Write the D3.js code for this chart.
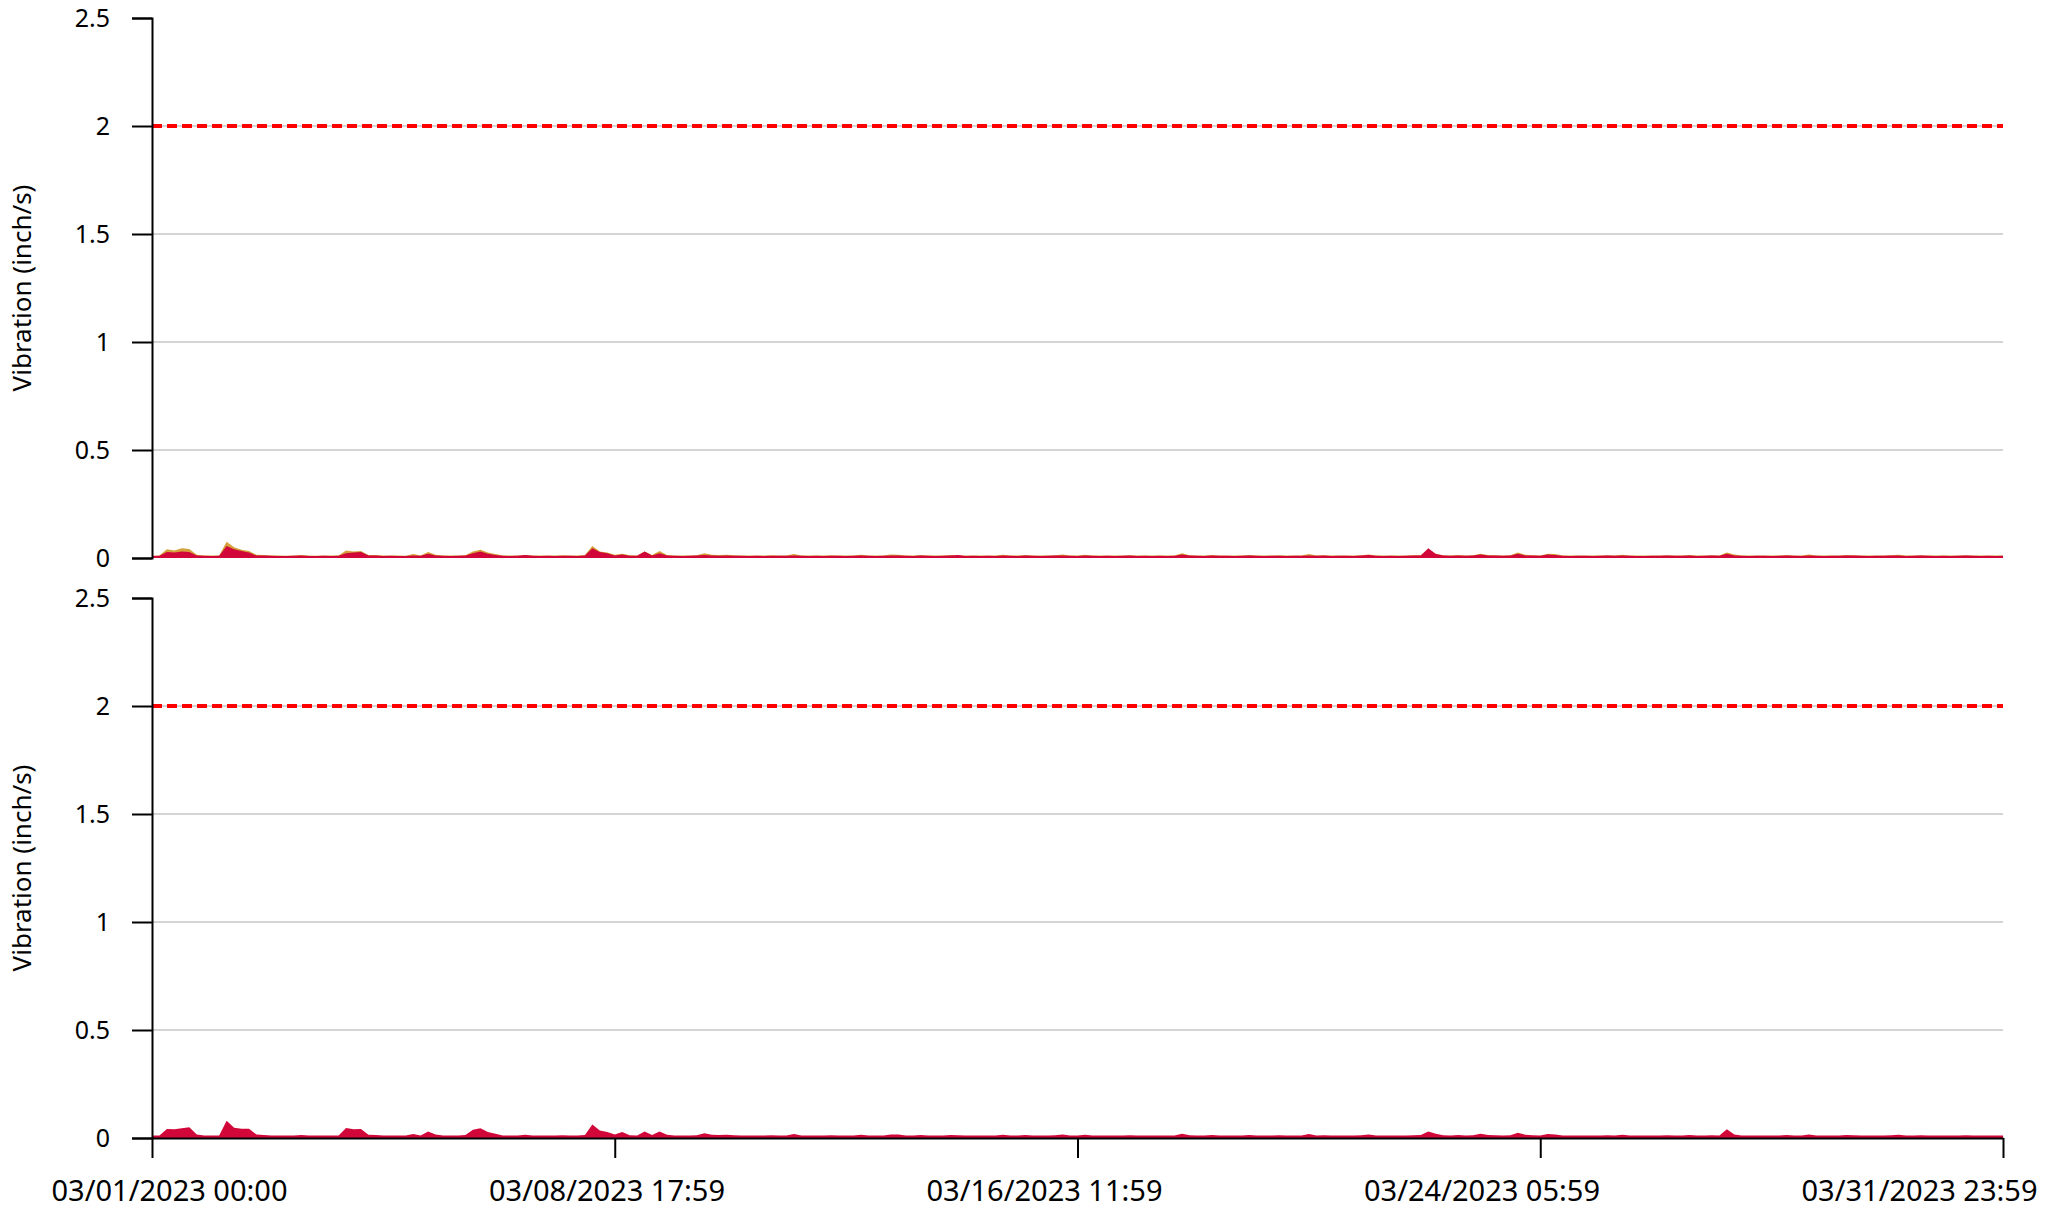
<!DOCTYPE html>
<html>
<head>
<meta charset="utf-8">
<script src="https://cdn.jsdelivr.net/npm/d3@7"></script>
<style>
    body { margin: 0; background: #fff; }
    svg text { font-family: "Noto Sans", sans-serif; fill: #000; }
</style>
</head>
<body>
<div id="chart"></div>
<script>
// time range of the month and sampling step
const startTime = new Date(Date.UTC(2023, 2, 1, 0, 0));
const endTime = new Date(Date.UTC(2023, 2, 31, 23, 59));
const sampleHours = 3;

const yTicks = [0, 0.5, 1, 1.5, 2, 2.5];
const xTickLabels = ["03/01/2023 00:00", "03/08/2023 17:59", "03/16/2023 11:59", "03/24/2023 05:59", "03/31/2023 23:59"];
const thresholdValue = 2;
const yLabel = "Vibration (inch/s)";

// readings in thousandths of inch/s, one row per day (3-hour samples)
const topGold = [
    10, 12, 40, 35, 45, 42, 15, 12,
    11, 12, 75, 50, 38, 32, 15, 14,
    12, 11, 10, 11, 14, 11, 10, 12,
    11, 12, 35, 30, 32, 14, 14, 11,
    12, 11, 10, 18, 12, 28, 15, 12,
    11, 12, 13, 30, 38, 25, 18, 12,
    11, 12, 14, 12, 11, 12, 11, 13,
    12, 11, 14, 55, 30, 25, 15, 20,
    13, 12, 30, 14, 32, 14, 12, 11,
    12, 13, 22, 15, 14, 15, 13, 12,
    11, 12, 11, 13, 12, 12, 18, 12,
    11, 12, 11, 13, 12, 11, 12, 15,
    12, 11, 12, 16, 15, 12, 11, 14,
    12, 11, 12, 14, 12, 11, 12, 11,
    12, 11, 15, 12, 11, 14, 12, 11,
    12, 13, 16, 12, 11, 15, 12, 11,
    12, 11, 12, 13, 11, 12, 11, 12,
    11, 12, 22, 13, 12, 11, 14, 12,
    12, 11, 12, 14, 12, 11, 12, 13,
    11, 12, 12, 18, 12, 13, 11, 12,
    12, 11, 13, 16, 12, 11, 12, 11,
    12, 13, 14, 40, 20, 13, 12, 14,
    12, 13, 20, 14, 13, 12, 13, 25,
    15, 13, 12, 20, 18, 12, 11, 12,
    12, 11, 12, 13, 12, 15, 12, 11,
    11, 12, 12, 13, 12, 12, 14, 11,
    12, 13, 12, 25, 16, 12, 11, 12,
    12, 11, 12, 14, 12, 11, 16, 12,
    11, 12, 12, 14, 13, 12, 11, 12,
    12, 13, 15, 11, 12, 13, 12, 11,
    12, 11, 12, 13, 12, 11, 12, 11, 12
];

const topRed = [
    9, 10, 28, 25, 30, 28, 11, 10,
    9, 10, 55, 40, 32, 26, 11, 11,
    10, 9, 9, 10, 11, 9, 9, 10,
    9, 10, 22, 25, 28, 11, 11, 9,
    10, 9, 9, 12, 10, 20, 11, 10,
    9, 10, 11, 22, 30, 20, 14, 10,
    9, 10, 14, 10, 9, 10, 9, 10,
    10, 9, 11, 45, 28, 22, 11, 16,
    10, 10, 30, 11, 22, 11, 10, 9,
    10, 11, 14, 11, 10, 11, 10, 10,
    9, 10, 9, 10, 10, 10, 12, 10,
    9, 10, 9, 10, 10, 9, 10, 11,
    10, 9, 10, 11, 11, 10, 9, 11,
    10, 9, 10, 11, 14, 9, 10, 9,
    10, 9, 11, 10, 9, 11, 10, 9,
    10, 11, 11, 10, 9, 11, 10, 9,
    10, 9, 10, 11, 9, 10, 9, 10,
    9, 10, 16, 11, 10, 9, 11, 10,
    10, 9, 10, 11, 10, 9, 10, 10,
    9, 10, 10, 12, 10, 11, 9, 10,
    10, 9, 11, 14, 10, 9, 10, 9,
    10, 11, 11, 45, 18, 11, 10, 11,
    10, 11, 16, 11, 11, 10, 11, 20,
    12, 11, 10, 16, 14, 10, 9, 10,
    10, 9, 10, 11, 10, 11, 10, 9,
    9, 10, 10, 11, 10, 10, 11, 9,
    10, 11, 10, 20, 12, 10, 9, 10,
    10, 9, 10, 11, 10, 9, 12, 10,
    9, 10, 10, 11, 11, 10, 9, 10,
    10, 11, 11, 9, 10, 11, 10, 9,
    10, 9, 10, 11, 10, 9, 10, 9, 10
];

const bottomRed = [
    11, 12, 42, 40, 45, 50, 16, 12,
    12, 12, 80, 48, 43, 43, 16, 14,
    12, 11, 11, 12, 14, 11, 11, 12,
    11, 12, 46, 40, 42, 15, 14, 12,
    12, 11, 11, 18, 12, 30, 16, 12,
    11, 12, 14, 38, 45, 28, 20, 12,
    12, 12, 15, 12, 11, 12, 11, 13,
    12, 11, 14, 62, 35, 28, 16, 28,
    13, 12, 30, 14, 30, 15, 12, 11,
    12, 13, 22, 15, 14, 15, 13, 12,
    11, 12, 11, 13, 12, 12, 18, 12,
    11, 12, 11, 13, 12, 12, 12, 15,
    12, 11, 12, 16, 16, 12, 11, 14,
    12, 11, 12, 14, 13, 11, 12, 11,
    12, 11, 15, 12, 11, 14, 12, 11,
    12, 13, 16, 12, 11, 15, 12, 11,
    12, 11, 12, 13, 11, 12, 11, 12,
    11, 12, 20, 13, 12, 11, 14, 12,
    12, 11, 12, 14, 12, 11, 12, 13,
    11, 12, 12, 18, 12, 13, 11, 12,
    12, 11, 13, 16, 12, 11, 12, 11,
    12, 13, 14, 30, 20, 13, 12, 14,
    12, 13, 20, 14, 13, 12, 13, 24,
    15, 13, 12, 18, 16, 12, 11, 12,
    12, 11, 12, 13, 12, 15, 12, 11,
    11, 12, 12, 13, 12, 12, 14, 11,
    12, 13, 12, 40, 16, 12, 11, 12,
    12, 11, 12, 14, 12, 11, 16, 12,
    11, 12, 12, 14, 13, 12, 11, 12,
    12, 13, 15, 11, 12, 13, 12, 11,
    12, 11, 12, 13, 12, 11, 12, 11, 12
];

const colors = { gold: "#d4a13a", red: "#d1073a", threshold: "#ff0000", grid: "#d4d4d4" };

const width = 2065, height = 1211;
const plotLeft = 152, plotRight = 2003;
const panels = [
    { top: 18, bottom: 558, series: [{ values: topGold, color: colors.gold }, { values: topRed, color: colors.red }], xAxis: false },
    { top: 598, bottom: 1138, series: [{ values: bottomRed, color: colors.red }], xAxis: true }
];

const toPoints = values => values.map((v, i) => ({
    time: d3.utcHour.offset(startTime, i * sampleHours),
    value: v / 1000
}));

const svg = d3.select("#chart")
    .append("svg")
    .attr("width", width)
    .attr("height", height);

const x = d3.scaleUtc()
    .domain([startTime, endTime])
    .range([plotLeft, plotRight]);

// tick marks sit at quarters of the range; labels are spread to fit the page
const xTickValues = d3.range(xTickLabels.length)
    .map(k => new Date(+startTime + k * (endTime - startTime) / (xTickLabels.length - 1)));
const labelX = d3.scaleUtc()
    .domain([startTime, endTime])
    .range([169, 1919]);

panels.forEach(panel => {
    const y = d3.scaleLinear()
        .domain([0, 2.5])
        .range([panel.bottom, panel.top]);

    const g = svg.append("g");

    // grid lines
    g.selectAll(".grid")
        .data(yTicks.filter(d => d > 0 && d < 2.5))
        .enter().append("line")
        .attr("class", "grid")
        .attr("x1", plotLeft)
        .attr("x2", plotRight)
        .attr("y1", d => y(d))
        .attr("y2", d => y(d))
        .attr("stroke", colors.grid)
        .attr("stroke-width", 2);

    // threshold
    g.append("line")
        .attr("x1", plotLeft)
        .attr("x2", plotRight)
        .attr("y1", y(thresholdValue))
        .attr("y2", y(thresholdValue))
        .attr("stroke", colors.threshold)
        .attr("stroke-width", 4)
        .attr("stroke-dasharray", "10,5");

    const area = d3.area()
        .x(d => x(d.time))
        .y0(y(0))
        .y1(d => y(d.value));

    panel.series.forEach(s => {
        g.append("path")
            .datum(toPoints(s.values))
            .attr("fill", s.color)
            .attr("d", area);
    });

    const yAxis = d3.axisLeft(y)
        .tickValues(yTicks)
        .tickFormat(d => String(d))
        .tickSize(20)
        .tickPadding(22);

    const ya = g.append("g")
        .attr("transform", `translate(${plotLeft},0)`)
        .call(yAxis);
    ya.selectAll("path, line").attr("stroke", "#000").attr("stroke-width", 2);
    ya.selectAll("text").style("font-size", "25px").style("font-family", "'Noto Sans', sans-serif");

    g.append("text")
        .attr("transform", `translate(31,${(panel.top + panel.bottom) / 2}) rotate(-90)`)
        .attr("text-anchor", "middle")
        .style("font-size", "26px")
        .text(yLabel);

    if (panel.xAxis) {
        const xAxis = d3.axisBottom(x)
            .tickValues(xTickValues)
            .tickFormat((d, i) => xTickLabels[i])
            .tickSize(20)
            .tickSizeOuter(0)
            .tickPadding(22);

        const xa = g.append("g")
            .attr("transform", `translate(0,${panel.bottom})`)
            .call(xAxis);
        xa.selectAll("path, line").attr("stroke", "#000").attr("stroke-width", 2);
        xa.selectAll("text")
            .style("font-size", "29px")
            .style("font-family", "'Noto Sans', sans-serif")
            .attr("x", d => labelX(d) - x(d));
    }
});
</script>
</body>
</html>
